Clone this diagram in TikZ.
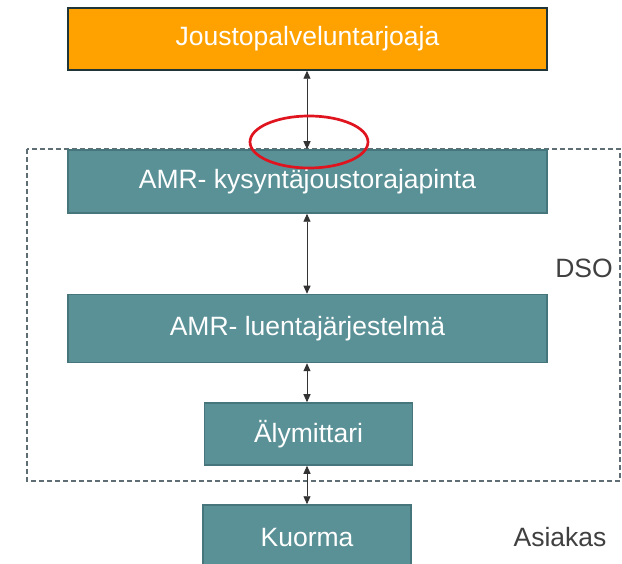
\documentclass[tikz,border=0pt]{standalone}
\usepackage{fontspec}
\setmainfont{Liberation Sans}
\usetikzlibrary{arrows.meta}
\definecolor{orangefill}{HTML}{FFA200}
\definecolor{tealfill}{HTML}{5A9197}
\definecolor{tealedge}{HTML}{46767C}
\definecolor{dashgray}{HTML}{5E6E74}
\definecolor{labelgray}{HTML}{404040}
\definecolor{ringred}{HTML}{E0141E}
\begin{document}
\begin{tikzpicture}[x=1pt,y=-1pt,
  box/.style={draw=tealedge,line width=1.5pt,fill=tealfill,text=white,
    font=\fontsize{26.5}{30}\selectfont,inner sep=0pt,anchor=center},
  topbox/.style={box,fill=orangefill,draw=black!55!tealedge},
  link/.style={draw=black!80,line width=0.9pt,{Triangle[length=8pt,width=7pt]}-{Triangle[length=8pt,width=7pt]}},
  sidelabel/.style={text=labelgray,font=\fontsize{26.5}{30}\selectfont,inner sep=0pt}]
\useasboundingbox (0,0) rectangle (622,564);
\fill[white] (0,0) rectangle (622,564);
% DSO region
\draw[dashgray,line width=1.2pt,dash pattern=on 5pt off 3pt] (27,149) rectangle (620,481);
\node[topbox,minimum width=479pt,minimum height=62pt] (top) at (307.5,39) {Joustopalveluntarjoaja};
\node[box,minimum width=479pt,minimum height=63pt] (amr1) at (307.5,181.5) {AMR- kysyntäjoustorajapinta};
\node[box,minimum width=479pt,minimum height=68pt] (amr2) at (307.5,328.5) {AMR- luentajärjestelmä};
\node[box,minimum width=208pt,minimum height=62pt] (smart) at (308.5,434) {Älymittari};
\node[box,minimum width=208pt,minimum height=66pt] (load) at (307,538) {Kuorma};
\node[sidelabel] (dso) at (584,268) {DSO};
\node[sidelabel] (cust) at (560,537) {Asiakas};
\draw[link] (top.south -| 307,0) -- (amr1.north -| 307,0);
\draw[link] (amr1.south -| 307,0) -- (amr2.north -| 307,0);
\draw[link] (amr2.south -| 307,0) -- (smart.north -| 307,0);
\draw[link] (smart.south -| 307,0) -- (load.north -| 307,0);
\draw[ringred,line width=2.7pt] (309,142) ellipse (59pt and 26pt);
\end{tikzpicture}
\end{document}
